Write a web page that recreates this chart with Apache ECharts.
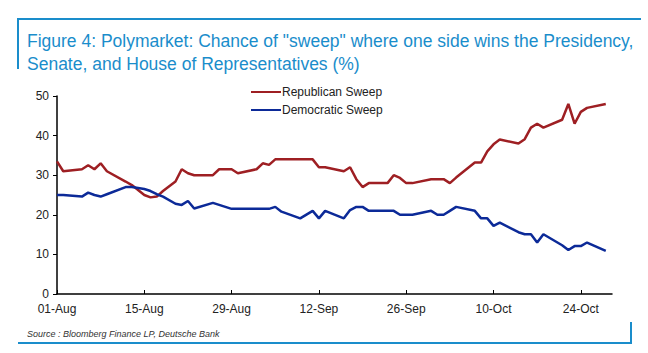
<!DOCTYPE html>
<html>
<head>
<meta charset="utf-8">
<script src="https://cdn.jsdelivr.net/npm/echarts@6/dist/echarts.min.js"></script>
<style>
  html, body { margin: 0; padding: 0; background: #fff; }
  #chart { width: 648px; height: 353px; }
</style>
</head>
<body>
<div id="chart"></div>
<script>
// days counted from 01-Aug
const days = [0, 1, 4, 5, 6, 7, 8, 11, 12, 14, 15, 16, 17, 19, 20, 21, 22, 25, 26, 28, 29, 32, 33, 34, 35, 36, 39, 41, 42, 43, 46, 47, 48, 49, 50, 53, 54, 55, 56, 57, 60, 61, 62, 63, 64, 67, 68, 69, 70, 71, 74, 75, 76, 77, 78, 81, 82, 83, 84, 85, 88];
const republican = [33.5, 31, 31.5, 32.5, 31.5, 33, 31, 28.4, 27.5, 25, 24.4, 24.6, 26, 28.4, 31.5, 30.5, 30, 30, 31.5, 31.5, 30.5, 31.5, 33, 32.6, 34, 34, 34, 34, 32, 32, 31, 32, 29, 27, 28, 28, 30, 29.3, 28, 28, 29, 29, 29, 28, 29.4, 33.2, 33.2, 36, 37.8, 39, 38, 39.1, 42, 43, 42, 44, 48, 43, 46, 47, 48];
const democratic = [25, 25, 24.6, 25.6, 25, 24.6, 25.2, 27, 27, 26.5, 26, 25.2, 24.6, 22.8, 22.5, 23.5, 21.6, 23, 22.5, 21.5, 21.5, 21.5, 21.5, 21.5, 22, 20.8, 19.1, 21, 19.1, 21, 19.1, 21.2, 22, 22, 21, 21, 21, 20, 20, 20, 21, 20, 20, 21, 22, 21, 19.1, 19.1, 17.2, 18, 15.6, 15.1, 15.1, 13, 15.1, 12.3, 11.1, 12.1, 12.1, 13, 10.9];
const tickLabels = ["01-Aug", "15-Aug", "29-Aug", "12-Sep", "26-Sep", "10-Oct", "24-Oct"];

const blueFrame = "#1a8dcb";
const chart = echarts.init(document.getElementById("chart"), null, { renderer: "svg" });

chart.setOption({
  animation: false,
  title: [
    {
      text: 'Figure 4: Polymarket: Chance of "sweep" where one side wins the Presidency,\nSenate, and House of Representatives (%)',
      left: 22,
      top: 24,
      textStyle: { color: blueFrame, fontSize: 17.5, fontWeight: "normal", fontFamily: "Liberation Sans", lineHeight: 23 }
    },
    {
      text: "Source : Bloomberg Finance LP, Deutsche Bank",
      left: 22,
      top: 324,
      textStyle: { color: "#333", fontSize: 9, fontStyle: "italic", fontWeight: "normal", fontFamily: "Liberation Sans" }
    }
  ],
  graphic: [
    { type: "line", shape: { x1: 18, y1: 19, x2: 641, y2: 19 }, style: { stroke: blueFrame, lineWidth: 2 } },
    { type: "line", shape: { x1: 18, y1: 18, x2: 18, y2: 69 }, style: { stroke: blueFrame, lineWidth: 2 } },
    { type: "line", shape: { x1: 18, y1: 343, x2: 632, y2: 343 }, style: { stroke: blueFrame, lineWidth: 2 } },
    { type: "line", shape: { x1: 631, y1: 322, x2: 631, y2: 344 }, style: { stroke: blueFrame, lineWidth: 2 } }
  ],
  legend: {
    orient: "vertical",
    left: 246,
    top: 81,
    itemGap: 6,
    itemWidth: 30,
    itemHeight: 2,
    icon: "rect",
    textStyle: { color: "#222", fontSize: 12, fontFamily: "Liberation Sans", padding: [0, 0, 0, -4] },
    data: ["Republican Sweep", "Democratic Sweep"]
  },
  grid: { left: 57, right: 36, top: 96, bottom: 59 },
  xAxis: {
    type: "value",
    min: 0,
    max: 89,
    interval: 14,
    axisLine: { lineStyle: { color: "#000", width: 1.5 } },
    axisTick: { inside: true, length: 4, lineStyle: { color: "#000" } },
    splitLine: { show: false },
    axisLabel: {
      color: "#222",
      fontSize: 12,
      fontFamily: "Liberation Sans",
      margin: 9,
      formatter: (v) => tickLabels[Math.round(v / 14)] || ""
    }
  },
  yAxis: {
    type: "value",
    min: 0,
    max: 50,
    interval: 10,
    axisLine: { show: true, lineStyle: { color: "#000", width: 1.5 } },
    axisTick: { show: true, length: 4, lineStyle: { color: "#000" } },
    splitLine: { show: false },
    axisLabel: { color: "#222", fontSize: 12, fontFamily: "Liberation Sans", margin: 8 }
  },
  series: [
    {
      name: "Republican Sweep",
      type: "line",
      symbol: "none",
      data: days.map((d, i) => [d, republican[i]]),
      itemStyle: { color: "#9e1f23" },
      lineStyle: { color: "#9e1f23", width: 2.5 }
    },
    {
      name: "Democratic Sweep",
      type: "line",
      symbol: "none",
      data: days.map((d, i) => [d, democratic[i]]),
      itemStyle: { color: "#0c2a98" },
      lineStyle: { color: "#0c2a98", width: 2.5 }
    }
  ]
});
</script>
</body>
</html>
